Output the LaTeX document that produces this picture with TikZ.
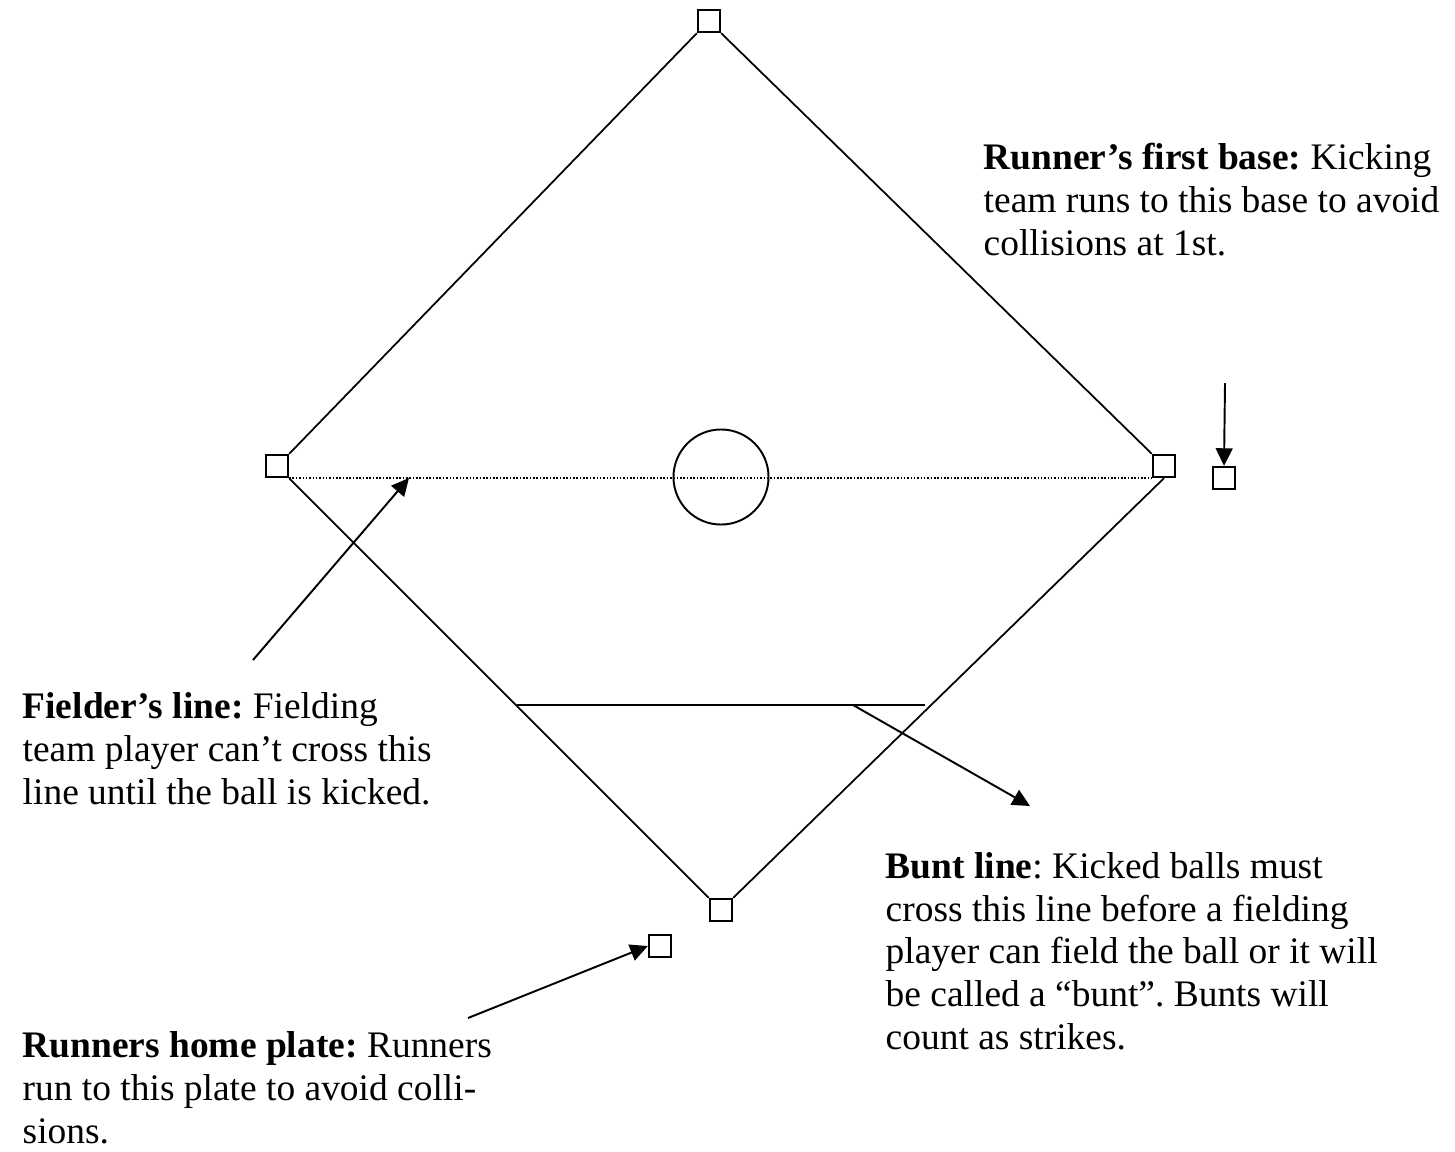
\documentclass[tikz,border=0pt]{standalone}
\usepackage{fontspec}
\setmainfont{Liberation Serif}
\usetikzlibrary{arrows.meta,positioning}

\begin{document}
\frenchspacing
\begin{tikzpicture}[x=0.01cm,y=-0.01cm,>={Triangle[length=5pt,width=4.8pt]},
basebox/.style={draw,line width=0.65pt,minimum size=0.22cm,inner sep=0pt},
lbl/.style={anchor=base west,align=left,inner sep=0pt,font=\fontsize{10.65}{12.1}\selectfont},
field/.style={line width=0.5pt},
pointer/.style={->,line width=0.55pt}]
\useasboundingbox (0,0) rectangle (1455,1151);
% bases
\node[basebox] (second) at (709,21) {};
\node[basebox] (third) at (277,466) {};
\node[basebox] (first) at (1164,466) {};
\node[basebox] (home) at (721,910) {};
\node[basebox] (runfirst) at (1224,478) {};
\node[basebox] (runhome) at (660,946) {};
\node[draw,circle,line width=0.55pt,minimum size=0.95cm,inner sep=0pt] (mound) at (721,477) {};
% diamond
\draw[field] (second.south west)--(third.north east);
\draw[field] (second.south east)--(first.north west);
\draw[field] (third.south east)--(home.north west);
\draw[field] (first.south)--(home.north east);
\draw[line width=0.55pt,dash pattern=on 0.45pt off 0.5pt] (third.south east)--(first.south west);
\coordinate (buntL) at (517,705);
\coordinate (buntR) at (925,705);
\draw[field] (buntL)--(buntR);
% labels (anchored at the baseline of the last line)
\node[lbl] (firstlbl) at (983,255) {\textbf{Runner’s first base:} Kicking\\team runs to this base to avoid\\collisions at 1st.};
\node[lbl] (fielderlbl) at (22,804) {\textbf{Fielder’s line:} Fielding\\team player can’t cross this\\line until the ball is kicked.};
\node[lbl] (buntlbl) at (885,1049) {\textbf{Bunt line}: Kicked balls must\\cross this line before a fielding\\player can field the ball or it will\\be called a ``bunt''. Bunts will\\count as strikes.};
\node[lbl] (homelbl) at (22,1143) {\textbf{Runners home plate:} Runners\\run to this plate to avoid colli-\\sions.};
% pointers
\coordinate (firsttail) at (1225,383);
\coordinate (fieldertail) at (253,660);
\coordinate (fieldertip) at (409,478);
\coordinate (buntfrom) at (853,705);
\coordinate (bunttip) at (1030,806);
\coordinate (hometail) at (468,1018);
\draw[pointer] (firsttail)--(runfirst.north);
\draw[pointer] (fieldertail)--(fieldertip);
\draw[pointer] (buntfrom)--(bunttip);
\draw[pointer] (hometail)--(runhome.west);
\end{tikzpicture}
\end{document}
